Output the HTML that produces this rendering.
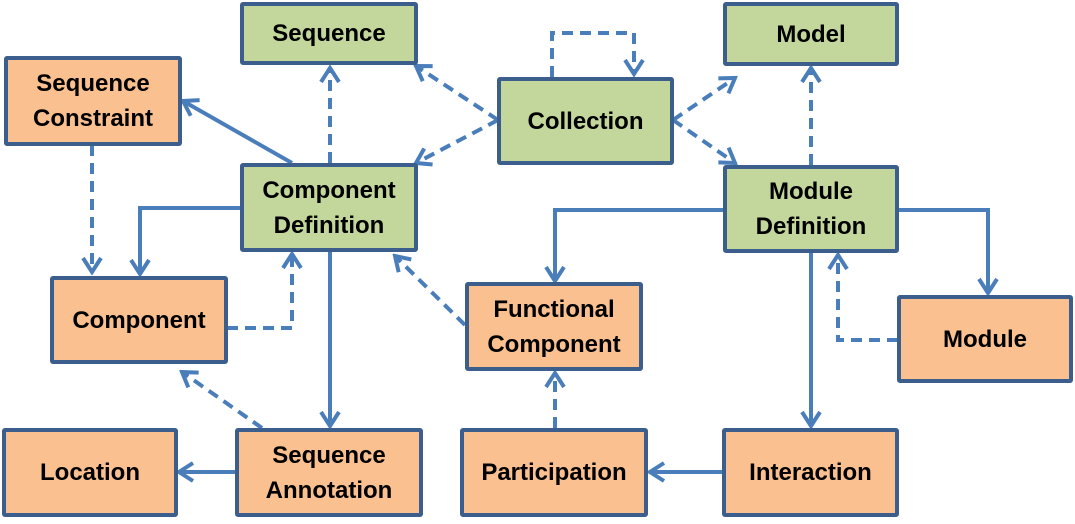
<!DOCTYPE html>
<html><head><meta charset="utf-8"><style>
html,body{margin:0;padding:0;background:#fff}
body{width:1075px;height:524px;position:relative;overflow:hidden;font-family:"Liberation Sans",sans-serif}
.b{position:absolute;box-sizing:border-box;border:4px solid #3b5e8c;border-radius:3px;display:flex;align-items:center;justify-content:center;text-align:center;font-weight:bold;font-size:24px;line-height:35px;color:#000;letter-spacing:0px}
.g{background:#c3d69b}.o{background:#fac090}
svg{position:absolute;left:0;top:0}
</style></head><body>
<svg width="1075" height="524">
<defs><marker id="a" viewBox="0 0 20 22" refX="17" refY="11" markerWidth="20" markerHeight="22" markerUnits="userSpaceOnUse" orient="auto"><path d="M3,2 L17,11 L3,20" fill="none" stroke="#4a7ebb" stroke-width="4"/></marker></defs>
<g fill="none" stroke="#4a7ebb" stroke-width="4" marker-end="url(#a)">
<g stroke-dasharray="11,7">
<path d="M330,163 V68"/>
<path d="M498,120 L416,66"/>
<path d="M498,120 L416,163"/>
<path d="M552,77 V33 H634 V74"/>
<path d="M673,120 L735,78"/>
<path d="M673,120 L735,163"/>
<path d="M811,165 V68"/>
<path d="M92,145 V272"/>
<path d="M227,328 H292 V254"/>
<path d="M465,325 L395,256"/>
<path d="M898,340 H838 V255"/>
<path d="M555,428 V373"/>
<path d="M262,428 L182,372"/>
</g>
<path d="M292,163 L183,101"/>
<path d="M241,208 H140 V274"/>
<path d="M330,252 V426"/>
<path d="M723,210 H555 V281"/>
<path d="M898,210 H988 V293"/>
<path d="M811,252 V426"/>
<path d="M723,472 H650"/>
<path d="M235,472 H179"/>
</g>
</svg>
<div class="b g" style="left:240px;top:2px;width:178px;height:63px">Sequence</div>
<div class="b g" style="left:723px;top:2px;width:176px;height:64px">Model</div>
<div class="b g" style="left:497px;top:77px;width:177px;height:88px">Collection</div>
<div class="b o" style="left:4px;top:56px;width:178px;height:90px">Sequence<br>Constraint</div>
<div class="b g" style="left:240px;top:163px;width:178px;height:89px">Component<br>Definition</div>
<div class="b g" style="left:723px;top:165px;width:176px;height:88px">Module<br>Definition</div>
<div class="b o" style="left:50px;top:276px;width:178px;height:88px">Component</div>
<div class="b o" style="left:465px;top:282px;width:178px;height:89px">Functional<br>Component</div>
<div class="b o" style="left:897px;top:295px;width:176px;height:88px">Module</div>
<div class="b o" style="left:2px;top:428px;width:176px;height:89px">Location</div>
<div class="b o" style="left:235px;top:428px;width:188px;height:89px">Sequence<br>Annotation</div>
<div class="b o" style="left:460px;top:428px;width:188px;height:89px">Participation</div>
<div class="b o" style="left:722px;top:428px;width:177px;height:89px">Interaction</div>
</body></html>
